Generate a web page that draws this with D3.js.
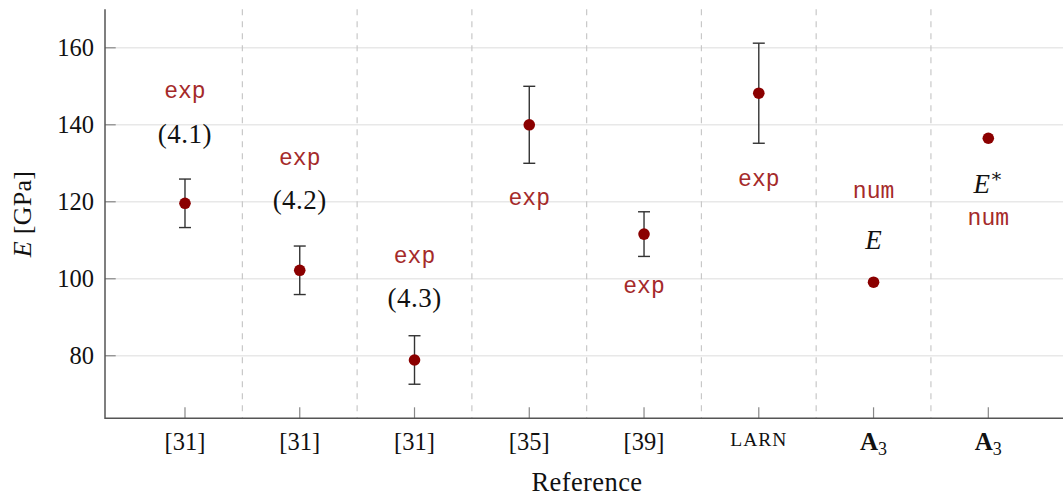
<!DOCTYPE html>
<html><head><meta charset="utf-8">
<script src="https://cdn.jsdelivr.net/npm/d3@7"></script>
<style>body{margin:0;background:#fff}svg{display:block}</style>
</head><body>
<svg id="c" width="1063" height="497"></svg>
<script>
// ---- data ----
const categories = ["[31]","[31]","[31]","[35]","[39]","LARN","A3","A3"];
const values     = [119.6, 102.2, 78.9, 140.0, 111.6, 148.2, 99.1, 136.5];
const errors     = [6.3, 6.3, 6.3, 10.0, 5.8, 13.0, null, null];
const yTicks     = [80, 100, 120, 140, 160];
// annotation nodes: [category index, data y, text]
const labelIdx   = [0, 0, 1, 1, 2, 2, 3, 4, 5, 6, 6, 7, 7];
const labelY     = [148.2, 137.7, 130.8, 120.4, 105.4, 95.0, 120.4, 97.6, 125.4, 122.4, 110.0, 124.6, 115.2];
const labelText  = ["exp","(4.1)","exp","(4.2)","exp","(4.3)","exp","exp","exp","num","E","E*","num"];

const svg = d3.select("#c");
const W = 1063, H = 497;
const x = d3.scaleLinear().domain([-0.697, categories.length - 1 + 0.697]).range([105, 1068.3]);
const y = d3.scaleLinear().domain([63.75, 170]).range([418.3, 9.3]);

const serif = "'Liberation Serif','DejaVu Serif',serif";
const mono = "'Liberation Mono','DejaVu Sans Mono',monospace";

// grid
svg.append("g").selectAll("line").data(yTicks).join("line")
  .attr("x1", x.range()[0]).attr("x2", W + 10)
  .attr("y1", d => y(d)).attr("y2", d => y(d))
  .attr("stroke", "#e8e8e8").attr("stroke-width", 1.4);

// dashed separators
const seps = d3.range(categories.length - 1).map(i => i + 0.5);
svg.append("g").selectAll("line").data(seps).join("line")
  .attr("x1", d => x(d)).attr("x2", d => x(d))
  .attr("y1", y.range()[1]).attr("y2", y.range()[0])
  .attr("stroke", "#c8c8c8").attr("stroke-width", 1.2).attr("stroke-dasharray", "6,6");

// y axis
const yAxis = d3.axisLeft(y).tickValues(yTicks).tickSize(0).tickPadding(11);
const gy = svg.append("g").attr("transform", `translate(${x.range()[0]},0)`).call(yAxis);
gy.select(".domain").remove();
gy.selectAll("text").attr("font-family", serif).attr("font-size", 24.5).attr("fill", "#111");
svg.append("g").selectAll("line").data(yTicks).join("line")
  .attr("x1", x.range()[0]).attr("x2", x.range()[0] + 10.7)
  .attr("y1", d => y(d)).attr("y2", d => y(d))
  .attr("stroke", "#888").attr("stroke-width", 1.2);

// x axis
const xIdx = d3.range(categories.length);
svg.append("g").selectAll("line").data(xIdx).join("line")
  .attr("x1", d => x(d)).attr("x2", d => x(d))
  .attr("y1", y.range()[0]).attr("y2", y.range()[0] - 11)
  .attr("stroke", "#888").attr("stroke-width", 1.2);

const xl = svg.append("g").selectAll("text").data(xIdx).join("text")
  .attr("x", d => x(d)).attr("y", 450)
  .attr("text-anchor", "middle").attr("font-family", serif).attr("fill", "#111");
xl.each(function(d) {
  const t = d3.select(this), c = categories[d];
  if (c === "A3") {
    t.append("tspan").attr("font-weight", "bold").attr("font-size", 25).text("A");
    t.append("tspan").attr("font-size", 18).attr("dy", 5).text("3");
  } else if (c === "LARN") {
    t.attr("font-size", 19.5).attr("letter-spacing", 1).attr("y", 446).text(c);
  } else {
    t.attr("font-size", 24.5).text(c);
  }
});

// axis lines
svg.append("line").attr("x1", x.range()[0]).attr("x2", x.range()[0])
  .attr("y1", y.range()[1]).attr("y2", y.range()[0] + 0.8)
  .attr("stroke", "#555").attr("stroke-width", 1.5);
svg.append("line").attr("x1", x.range()[0]).attr("x2", W + 10)
  .attr("y1", y.range()[0]).attr("y2", y.range()[0])
  .attr("stroke", "#555").attr("stroke-width", 1.5);

// axis titles
svg.append("text").attr("x", 587).attr("y", 491).attr("text-anchor", "middle")
  .attr("font-family", serif).attr("font-size", 26.5).attr("letter-spacing", 0.4)
  .attr("fill", "#111").text("Reference");
const yt = svg.append("text").attr("transform", "translate(31,214) rotate(-90)")
  .attr("text-anchor", "middle").attr("font-family", serif).attr("font-size", 26)
  .attr("letter-spacing", 0.3).attr("fill", "#111");
yt.append("tspan").attr("font-style", "italic").text("E");
yt.append("tspan").text(" [GPa]");

// error bars
const eb = xIdx.filter(i => errors[i] != null);
const ge = svg.append("g").attr("stroke", "#333").attr("stroke-width", 1.4);
ge.selectAll("line.v").data(eb).join("line").attr("class", "v")
  .attr("x1", i => x(i)).attr("x2", i => x(i))
  .attr("y1", i => y(values[i] - errors[i])).attr("y2", i => y(values[i] + errors[i]));
[1, -1].forEach(s => {
  ge.selectAll("line.c" + (s > 0 ? "t" : "b")).data(eb).join("line").attr("class", "c" + (s > 0 ? "t" : "b"))
    .attr("x1", i => x(i) - 6).attr("x2", i => x(i) + 6)
    .attr("y1", i => y(values[i] + s * errors[i])).attr("y2", i => y(values[i] + s * errors[i]));
});

// points
svg.append("g").selectAll("circle").data(xIdx).join("circle")
  .attr("cx", i => x(i)).attr("cy", i => y(values[i])).attr("r", 5.8)
  .attr("fill", "#8b0000");

// labels
const gl = svg.append("g");
labelIdx.forEach((ci, k) => {
  const txt = labelText[k];
  const t = gl.append("text").attr("x", x(ci)).attr("y", y(labelY[k]))
    .attr("text-anchor", "middle").attr("dominant-baseline", "central");
  if (txt === "exp" || txt === "num") {
    t.attr("font-family", mono).attr("font-size", 23).attr("fill", "#a52a2a").attr("dy", -1).text(txt);
  } else if (txt === "E") {
    t.attr("font-family", serif).attr("font-size", 27).attr("font-style", "italic").attr("fill", "#111").text("E");
  } else if (txt === "E*") {
    t.attr("font-family", serif).attr("font-size", 27).attr("fill", "#111");
    t.append("tspan").attr("font-style", "italic").text("E");
    t.append("tspan").attr("font-size", 19).attr("dy", -9).text("∗");
  } else {
    t.attr("font-family", serif).attr("font-size", 27).attr("letter-spacing", 0.5).attr("fill", "#111").text(txt);
  }
});
</script>
</body></html>
